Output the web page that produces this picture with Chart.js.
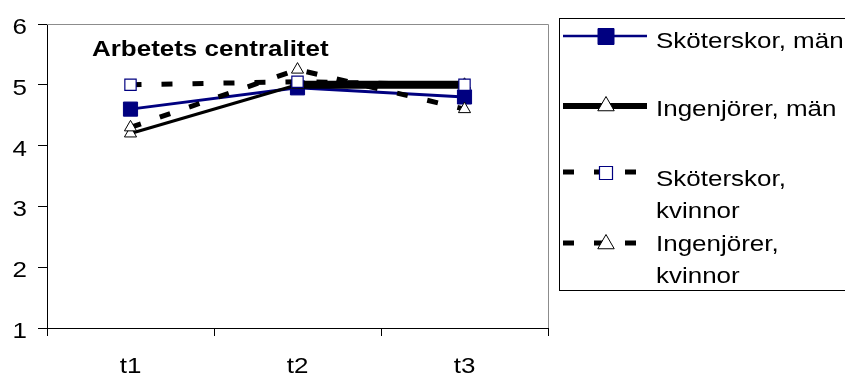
<!DOCTYPE html>
<html>
<head>
<meta charset="utf-8">
<script src="https://cdn.jsdelivr.net/npm/chart.js@4/dist/chart.umd.min.js"></script>
<style>
    html, body { margin: 0; padding: 0; background: #fff; }
    #wrap { width: 845px; height: 377px; position: relative; }
</style>
</head>
<body>
<div id="wrap"><canvas id="chart"></canvas></div>
<script>
    // data
    const categories = ["t1", "t2", "t3"];
    const seriesLabels = ["Sköterskor, män", "Ingenjörer, män", "Sköterskor, kvinnor", "Ingenjörer, kvinnor"];
    const skoterskorMan = [4.6, 4.95, 4.8];
    const ingenjorerMan = [4.2, 5.0, 5.0];
    const skoterskorKvinnor = [5.0, 5.05, 5.0];
    const ingenjorerKvinnor = [4.3, 5.25, 4.6];
    const yMin = 1, yMax = 6;
    const title = "Arbetets centralitet";

    const FONT = "'Liberation Sans', Arial, sans-serif";
    const SX = 1.18; // text in the original is a bit wide

    function wideText(ctx, text, x, y, align, font) {
        ctx.save();
        ctx.font = font;
        ctx.fillStyle = "#000";
        ctx.textBaseline = "alphabetic";
        ctx.textAlign = align;
        ctx.translate(x, y);
        ctx.scale(SX, 1);
        ctx.fillText(text, 0, 0);
        ctx.restore();
    }

    function square(ctx, x, y, half, fill, stroke, lw) {
        ctx.beginPath();
        ctx.rect(x - half, y - half, half * 2, half * 2);
        ctx.fillStyle = fill;
        ctx.fill();
        ctx.lineWidth = lw;
        ctx.strokeStyle = stroke;
        ctx.stroke();
    }

    function triangle(ctx, x, y, r) {
        ctx.beginPath();
        ctx.moveTo(x, y - r);
        ctx.lineTo(x + r * 0.866, y + r / 2);
        ctx.lineTo(x - r * 0.866, y + r / 2);
        ctx.closePath();
        ctx.fillStyle = "#fff";
        ctx.fill();
        ctx.lineWidth = 1;
        ctx.strokeStyle = "#000";
        ctx.stroke();
    }

    // gray frame on top and right of the plot
    const framePlugin = {
        id: "frame",
        beforeDatasetsDraw(chart) {
            const a = chart.chartArea, ctx = chart.ctx;
            ctx.save();
            ctx.strokeStyle = "#8c8c8c";
            ctx.lineWidth = 1;
            ctx.beginPath();
            ctx.moveTo(a.left, a.top + 0.5);
            ctx.lineTo(a.right + 0.5, a.top + 0.5);
            ctx.lineTo(a.right + 0.5, a.bottom);
            ctx.stroke();
            ctx.restore();
        }
    };

    // tick labels, title and legend
    const textPlugin = {
        id: "texts",
        afterDraw(chart) {
            const ctx = chart.ctx;
            const xs = chart.scales.x, ys = chart.scales.y;
            const f = "22px " + FONT;
            ys.ticks.forEach(t => {
                wideText(ctx, String(t.value), 27, ys.getPixelForValue(t.value) + 10, "right", f);
            });
            categories.forEach((c, i) => {
                wideText(ctx, c, xs.getPixelForValue(i), 373, "center", f);
            });
            wideText(ctx, title, 92, 56, "left", "bold 22px " + FONT);

            // legend box
            ctx.save();
            ctx.strokeStyle = "#000";
            ctx.lineWidth = 1;
            ctx.strokeRect(559.5, 18.5, 300, 272);
            ctx.restore();

            const items = [
                { y: 36, lines: ["Sköterskor, män"], base: [48] },
                { y: 106, lines: ["Ingenjörer, män"], base: [116] },
                { y: 172, lines: ["Sköterskor,", "kvinnor"], base: [186, 218] },
                { y: 243, lines: ["Ingenjörer,", "kvinnor"], base: [251, 283] }
            ];
            const ds = chart.data.datasets;
            items.forEach((it, i) => {
                const d = ds[i];
                ctx.save();
                ctx.beginPath();
                ctx.strokeStyle = d.borderColor;
                ctx.lineWidth = i === 0 ? 2.5 : (i === 1 ? 6 : d.borderWidth);
                ctx.setLineDash(d.borderDash || []);
                ctx.moveTo(563, it.y);
                ctx.lineTo(647, it.y);
                ctx.stroke();
                ctx.setLineDash([]);
                if (i === 0) square(ctx, 606, it.y + 0.5, 8, "#000080", "#000080", 1);
                if (i === 1) triangle(ctx, 606, it.y, 9.5);
                if (i === 2) square(ctx, 606, it.y + 1, 6.5, "#fff", "#000080", 1.2);
                if (i === 3) triangle(ctx, 606, it.y + 1, 9.5);
                ctx.restore();
                it.lines.forEach((ln, k) => wideText(ctx, ln, 656, it.base[k], "left", f));
            });
        }
    };

    const dash = [11, 20];

    new Chart(document.getElementById("chart"), {
        type: "line",
        data: {
            labels: categories,
            datasets: [
                {
                    label: seriesLabels[0], data: skoterskorMan, order: 4,
                    borderColor: "#000080", borderWidth: 3,
                    pointStyle: "rect", pointRadius: 10,
                    pointBackgroundColor: "#000080", pointBorderColor: "#000080", pointBorderWidth: 1
                },
                {
                    label: seriesLabels[1], data: ingenjorerMan, order: 3,
                    borderColor: "#000", borderWidth: 8,
                    segment: { borderWidth: c => c.p0DataIndex === 0 ? 3 : 8 },
                    pointStyle: "triangle", pointRadius: 7,
                    pointBackgroundColor: "#fff", pointBorderColor: "#000", pointBorderWidth: 1
                },
                {
                    label: seriesLabels[2], data: skoterskorKvinnor, order: 2,
                    borderColor: "#000", borderWidth: 5, borderDash: dash, borderCapStyle: "butt",
                    pointStyle: "rect", pointRadius: 8,
                    pointBackgroundColor: "#fff", pointBorderColor: "#000080", pointBorderWidth: 1.2
                },
                {
                    label: seriesLabels[3], data: ingenjorerKvinnor, order: 1,
                    borderColor: "#000", borderWidth: 5, borderDash: dash, borderCapStyle: "butt",
                    pointStyle: "triangle", pointRadius: 7,
                    pointBackgroundColor: "#fff", pointBorderColor: "#000", pointBorderWidth: 1
                }
            ]
        },
        options: {
            responsive: true,
            maintainAspectRatio: false,
            animation: false,
            layout: { padding: { top: 24, right: 297, left: 0, bottom: 0 } },
            plugins: { legend: { display: false }, tooltip: { enabled: false } },
            scales: {
                x: {
                    offset: true,
                    grid: { offset: true, drawOnChartArea: false, drawTicks: true, tickLength: 8, color: "#000" },
                    border: { color: "#000", width: 1 },
                    ticks: { display: false },
                    afterFit: s => { s.height = 49; }
                },
                y: {
                    min: yMin, max: yMax,
                    grid: { drawOnChartArea: false, drawTicks: true, tickLength: 9, color: "#000" },
                    border: { color: "#000", width: 1 },
                    ticks: { display: false, stepSize: 1 },
                    afterFit: s => { s.width = 47; }
                }
            }
        },
        plugins: [framePlugin, textPlugin]
    });
</script>
</body>
</html>
